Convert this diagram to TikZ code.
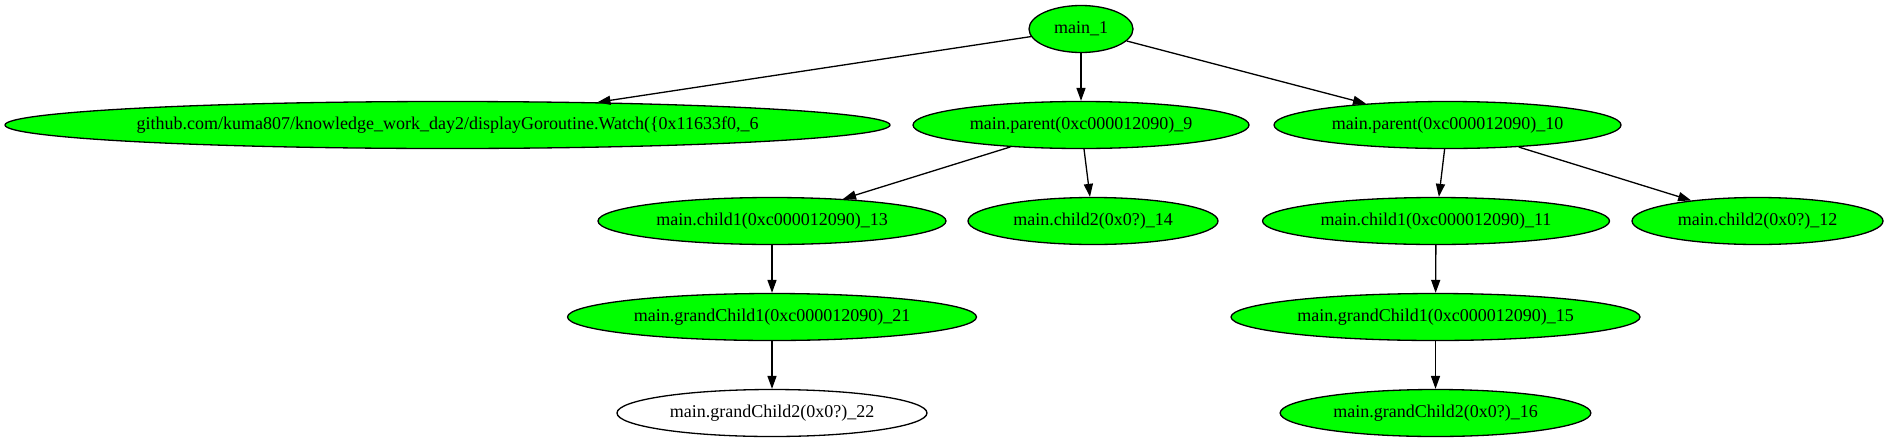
\documentclass[tikz,border=0pt]{standalone}
\usepackage{fontspec}
\setmainfont{Liberation Serif}
\usetikzlibrary{shapes.geometric,arrows.meta}
\definecolor{nodegreen}{RGB}{0,255,0}
\tikzset{
  gnode/.style={ellipse, draw=black, line width=0.98pt, fill=nodegreen, inner sep=0pt,
    minimum height=35.25pt, font=\fontsize{13.5pt}{16pt}\selectfont},
  wnode/.style={gnode, fill=white},
  edge/.style={line width=0.98pt, -{Triangle[length=9.75pt,width=6.8pt]}}
}
\begin{document}
\begin{tikzpicture}[x=0.75pt,y=-0.75pt]
\useasboundingbox (0,0) rectangle (1887,443);
\node[gnode, minimum width=78pt] (m1) at (1081,29) {main\_1};
\node[gnode, minimum width=663.75pt] (gh) at (447.5,125) {github.com/kuma807/knowledge\_work\_day2/displayGoroutine.Watch(\{0x11633f0,\_6};
\node[gnode, minimum width=252pt] (p9) at (1081,125) {main.parent(0xc000012090)\_9};
\node[gnode, minimum width=260.25pt] (p10) at (1447.5,125) {main.parent(0xc000012090)\_10};
\node[gnode, minimum width=261pt] (c13) at (772,221) {main.child1(0xc000012090)\_13};
\node[gnode, minimum width=187.5pt] (c14) at (1093,221) {main.child2(0x0?)\_14};
\node[gnode, minimum width=260.25pt] (c11) at (1436,221) {main.child1(0xc000012090)\_11};
\node[gnode, minimum width=188.25pt] (c12) at (1757.5,221) {main.child2(0x0?)\_12};
\node[gnode, minimum width=306.75pt] (g21) at (772,317) {main.grandChild1(0xc000012090)\_21};
\node[wnode, minimum width=232.5pt] (g22) at (772,413) {main.grandChild2(0x0?)\_22};
\node[gnode, minimum width=306.75pt] (g15) at (1435.5,317) {main.grandChild1(0xc000012090)\_15};
\node[gnode, minimum width=233pt] (g16) at (1435.5,413) {main.grandChild2(0x0?)\_16};
\draw[edge] (m1) -- (gh);
\draw[edge] (m1) -- (p9);
\draw[edge] (m1) -- (p10);
\draw[edge] (p9) -- (c13);
\draw[edge] (p9) -- (c14);
\draw[edge] (p10) -- (c11);
\draw[edge] (p10) -- (c12);
\draw[edge] (c13) -- (g21);
\draw[edge] (g21) -- (g22);
\draw[edge] (c11) -- (g15);
\draw[edge] (g15) -- (g16);
\end{tikzpicture}
\end{document}
